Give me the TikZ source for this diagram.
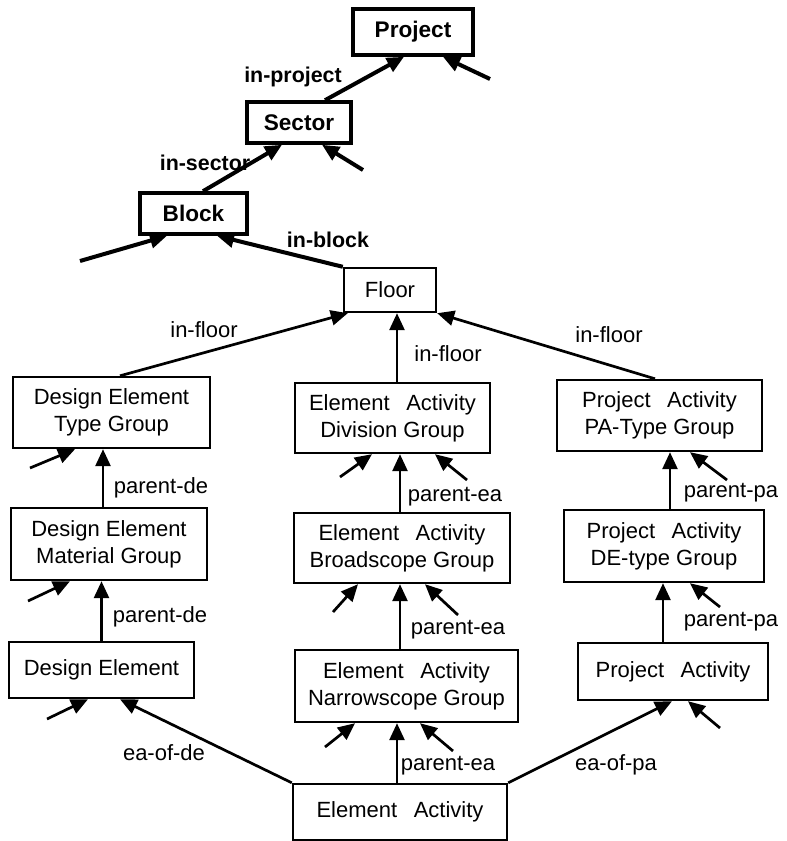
\documentclass[tikz,border=0pt]{standalone}
\usepackage{fontspec}
\setmainfont{Liberation Sans}
\usepackage{tikz}
\usetikzlibrary{arrows.meta,positioning,calc}

\newcommand\wordgap{\hspace{0.75em}}

\begin{document}
\begin{tikzpicture}[
  x=0.5pt, y=-0.5pt,
  box/.style={rectangle, draw=black, line width=1.2pt, fill=white, align=center,
    inner sep=2pt, font=\fontsize{11}{13.5}\selectfont},
  topbox/.style={box, line width=1.8pt, font=\fontsize{11.3}{13.5}\selectfont\bfseries},
  rel/.style={-{Triangle[length=8.5pt,width=7.5pt]}, line width=1.35pt},
  toprel/.style={rel, line width=2pt},
  lbl/.style={font=\fontsize{11}{13}\selectfont, inner sep=1pt},
  toplbl/.style={lbl, font=\fontsize{10.7}{13}\selectfont\bfseries},
]
  \useasboundingbox (0,0) rectangle (787,841);

  % spatial hierarchy
  \node[topbox, minimum width=60pt, minimum height=23pt] (project) at (413,32) {Project};
  \node[topbox, minimum width=52pt, minimum height=20.5pt] (sector) at (299,122.5) {Sector};
  \node[topbox, minimum width=53.5pt, minimum height=20.5pt] (block) at (193.5,213.5) {Block};
  \node[box, minimum width=46pt, minimum height=22pt] (floor) at (390,290) {Floor};

  % design element column
  \node[box, minimum width=98.5pt, minimum height=35.5pt] (detg) at (111.5,412.5) {Design Element\\Type Group};
  \node[box, minimum width=98pt, minimum height=36pt] (demg) at (109,544) {Design Element\\Material Group};
  \node[box, minimum width=92.5pt, minimum height=28pt] (de) at (101.5,670) {Design Element};

  % element activity column
  \node[box, minimum width=97.5pt, minimum height=35pt] (eadg) at (392.5,418) {Element\wordgap Activity\\Division Group};
  \node[box, minimum width=108pt, minimum height=35pt] (eabg) at (402,548) {Element\wordgap Activity\\Broadscope Group};
  \node[box, minimum width=111.5pt, minimum height=36pt] (eang) at (406.5,686) {Element\wordgap Activity\\Narrowscope Group};
  \node[box, minimum width=107pt, minimum height=28pt] (ea) at (400,812) {Element\wordgap Activity};

  % project activity column
  \node[box, minimum width=102.5pt, minimum height=35.5pt] (paptg) at (659.5,415.5) {Project\wordgap Activity\\PA-Type Group};
  \node[box, minimum width=100pt, minimum height=36pt] (padtg) at (664,546) {Project\wordgap Activity\\DE-type Group};
  \node[box, minimum width=95pt, minimum height=28.5pt] (pa) at (673,671.5) {Project\wordgap Activity};

  % loose ends of relations not shown here
  \coordinate (pj-stub) at (490,79);
  \coordinate (sc-stub) at (363,170);
  \coordinate (bk-stub) at (80,261);
  \coordinate (detg-stub) at (30,468);
  \coordinate (eadg-stub-l) at (340,477);
  \coordinate (eadg-stub-r) at (467,480);
  \coordinate (paptg-stub) at (727,480);
  \coordinate (demg-stub) at (28,601);
  \coordinate (eabg-stub-l) at (333,612);
  \coordinate (eabg-stub-r) at (458,615);
  \coordinate (padtg-stub) at (720,607);
  \coordinate (de-stub) at (47,719);
  \coordinate (eang-stub-l) at (325,747);
  \coordinate (eang-stub-r) at (453,751);
  \coordinate (pa-stub) at (720,728);

  \draw[toprel] ($(sector.north)+(26,0)$) -- ($(project.south)+(-9,0)$);
  \draw[toprel] (pj-stub) -- ($(project.south)+(30,0)$);
  \draw[toprel] ($(block.north)+(9.5,0)$) -- ($(sector.south)+(-17,0)$);
  \draw[toprel] (sc-stub) -- ($(sector.south)+(23,0)$);
  \draw[toprel] (floor.north west) -- ($(block.south)+(23.5,0)$);
  \draw[toprel] (bk-stub) -- ($(block.south)+(-26.5,0)$);

  \draw[rel] ($(detg.north)+(8.5,0)$) -- ($(floor.south west)+(5,0)$);
  \draw[rel] ($(eadg.north)+(4.5,0)$) -- ($(floor.south)+(7,0)$);
  \draw[rel] ($(paptg.north)+(-4.5,0)$) -- (floor.south east);

  \draw[rel] ($(demg.north)+(-6,0)$) -- ($(detg.south)+(-8.5,0)$);
  \draw[rel] (detg-stub) -- ($(detg.south)+(-36.5,0)$);
  \draw[rel] ($(eabg.north)+(-2,0)$) -- ($(eadg.south)+(7.5,0)$);
  \draw[rel] (eadg-stub-l) -- ($(eadg.south)+(-20.5,0)$);
  \draw[rel] (eadg-stub-r) -- ($(eadg.south)+(42.5,0)$);
  \draw[rel] ($(padtg.north)+(6,0)$) -- ($(paptg.south)+(10.5,0)$);
  \draw[rel] (paptg-stub) -- ($(paptg.south)+(30.5,0)$);

  \draw[rel] (de.north) -- ($(demg.south)+(-7.5,0)$);
  \draw[rel] (demg-stub) -- ($(demg.south)+(-39,0)$);
  \draw[rel] ($(eang.north)+(-6.5,0)$) -- ($(eabg.south)+(-2,0)$);
  \draw[rel] (eabg-stub-l) -- ($(eabg.south)+(-44,0)$);
  \draw[rel] (eabg-stub-r) -- ($(eabg.south)+(23,0)$);
  \draw[rel] ($(pa.north)+(-10,0)$) -- ($(padtg.south)+(-1,0)$);
  \draw[rel] (padtg-stub) -- ($(padtg.south)+(26,0)$);

  \draw[rel] (ea.north west) -- ($(de.south)+(18.5,0)$);
  \draw[rel] (de-stub) -- ($(de.south)+(-13.5,0)$);
  \draw[rel] ($(ea.north)+(-3,0)$) -- ($(eang.south)+(-9.5,0)$);
  \draw[rel] (eang-stub-l) -- ($(eang.south)+(-51.5,0)$);
  \draw[rel] (eang-stub-r) -- ($(eang.south)+(13.5,0)$);
  \draw[rel] (ea.north east) -- ($(pa.south)+(-1,0)$);
  \draw[rel] (pa-stub) -- ($(pa.south)+(15,0)$);

  % relation names
  \node[toplbl] (l-project) at (293,77) {in-project};
  \node[toplbl] (l-sector) at (205,163) {in-sector};
  \node[toplbl] (l-block) at (328,240) {in-block};
  \node[lbl] (l-floor-de) at (204,330) {in-floor};
  \node[lbl] (l-floor-ea) at (448,354) {in-floor};
  \node[lbl] (l-floor-pa) at (609,335) {in-floor};
  \node[lbl] (l-de-1) at (161,488) {parent-de};
  \node[lbl] (l-de-2) at (160,617) {parent-de};
  \node[lbl] (l-ea-1) at (455,497) {parent-ea};
  \node[lbl] (l-ea-2) at (458,630) {parent-ea};
  \node[lbl] (l-ea-3) at (448,766) {parent-ea};
  \node[lbl] (l-pa-1) at (731,493) {parent-pa};
  \node[lbl] (l-pa-2) at (731,622) {parent-pa};
  \node[lbl] (l-eaofde) at (164,753) {ea-of-de};
  \node[lbl] (l-eaofpa) at (616,765) {ea-of-pa};
\end{tikzpicture}
\end{document}
